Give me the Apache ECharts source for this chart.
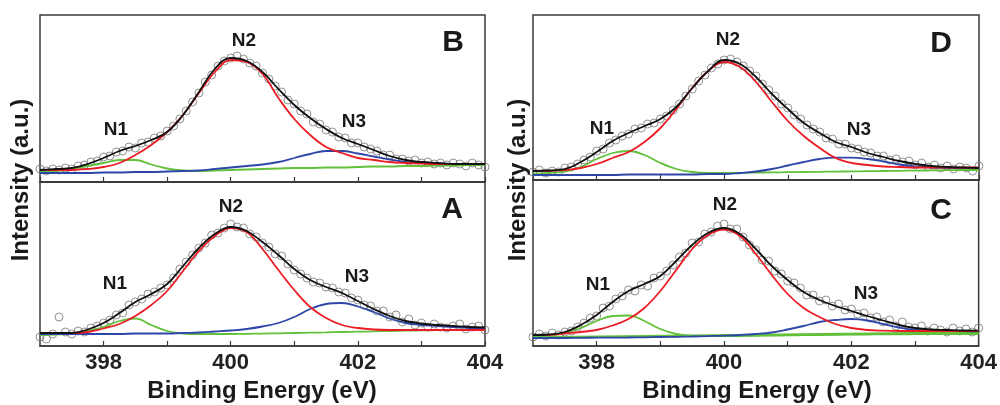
<!DOCTYPE html>
<html>
<head>
<meta charset="utf-8">
<script src="https://cdn.jsdelivr.net/npm/echarts@6/dist/echarts.min.js"></script>
<style>
html,body{margin:0;padding:0;background:#fff}
#main{width:1000px;height:405px}
</style>
</head>
<body>
<div id="main"></div>
<script>
// binding energy (eV) of the fitted curves and of the measured points
var xFit = [397,397.25,397.5,397.75,398,398.25,398.5,398.75,399,399.25,399.5,399.75,400,400.25,400.5,400.75,401,401.25,401.5,401.75,402,402.25,402.5,402.75,403,403.25,403.5,403.75,404];
var xPts = [397,397.1,397.2,397.3,397.4,397.5,397.6,397.7,397.8,397.9,
	398,398.1,398.2,398.3,398.4,398.5,398.6,398.7,398.8,398.9,
	399,399.1,399.2,399.3,399.4,399.5,399.6,399.7,399.8,399.9,
	400,400.1,400.2,400.3,400.4,400.5,400.6,400.7,400.8,400.9,
	401,401.1,401.2,401.3,401.4,401.5,401.6,401.7,401.8,401.9,
	402,402.1,402.2,402.3,402.4,402.5,402.6,402.7,402.8,402.9,
	403,403.1,403.2,403.3,403.4,403.5,403.6,403.7,403.8,403.9,404];
var xTicks = [398, 400, 402, 404];

// panel B (intensity, a.u.)
var bPts = [13,11,13,12,14,13,16,17,20,21,25,26,30,31,35,34,39,40,44,46,51,56,63,71,80,89,100,107,116,121,124,126,123,119,116,109,103,96,90,82,78,71,68,60,58,52,50,45,44,39,39,35,33,31,27,27,23,23,21,22,19,20,18,19,17,19,18,16,19,17,15];
var bFit = [12,13,14,18,24,31,36,42,50,67,90,113,124,121,110,93,77,64,53,44,38,32,26,22,20,19,18,18,18];
var bN1 = [10,11,13,16,19,22,22,17.5,13.5,11.5,11,11.5,12,12.5,13,13.5,14,14,14.5,14.5,15,15.5,15.5,16,16,16.5,16.5,17,17];
var bN2 = [12,12,12,13,15,19,27,37,50,67,89,110,122,120,108,84,63,47,35,29,24,22,20,19,18.5,18,18,18,18];
var bN3 = [9,9,9,9,9.5,9.5,10,10,10.5,11,11.5,13,14.5,16,17.5,20,24,28,31,31,28.5,25.5,22.5,20,19,18.5,18,18,18];

// panel A
var aPts = [9,7,12,29,14,12,15,14,18,20,23,26,31,33,41,44,47,52,54,58,61,68,77,84,91,98,103,111,113,118,122,119,118,112,109,103,99,92,90,82,76,72,68,64,63,59,58,54,53,48,46,41,40,35,35,29,31,24,27,21,23,19,22,19,18,20,22,17,19,20,16];
var aFit = [13,13,13,16.5,23,33,44,52,62,80,98,112,119,115,104,91,77,66,59,53,45,37,30,25,22.5,21,20,19,18.5];
var aN1 = [11,11.5,12.5,15,19,25,27.5,21,15,12.5,12,12,12,12.2,12.4,12.7,13,13.3,13.6,14,14.3,14.6,15,15.3,15.6,15.9,16.1,16.4,16.7];
var aN2 = [13,13,13,14,17.5,22,30,41,55,75,95,110,118,114,97,76,56,39,28,21,18,16.5,16,16,16,16,16,16,16];
var aN3 = [12,12,12,12,12,12,12.5,12.5,12.5,13,13.5,14.5,15.5,17,19.5,23,29,37,42,43,39.5,34,27.5,23,21,20,19,18,17.5];

// panel D
var dPts = [8,10,7,9,8,12,13,16,20,23,29,31,37,40,44,46,51,52,56,57,61,64,70,76,84,91,99,105,112,116,120,121,118,114,109,104,96,90,84,76,72,65,61,55,51,48,42,41,36,36,32,31,28,27,24,24,20,21,18,19,15,17,13,15,12,14,11,13,12,9,14];
var dFit = [9,9.5,11,18,28,39,47,54,61,73,92,109,120,116,103,86,71,57,47,38,33,27,23,19,16,14,13,12.5,12];
var dN1 = [6,7,8.5,13,21,27,29,25,17,11,8,7,7,7.2,7.4,7.6,7.8,8,8.2,8.4,8.6,8.8,9,9.2,9.4,9.6,9.8,10,10];
var dN2 = [9,9,10,12,16,22,28,38,52,71,92,109,118,113,98,78,59,44,32,22,17,15,13.5,13,12.5,12.5,12.5,12.5,12.5];
var dN3 = [5,5,5,5,5,5,5.5,5.5,5.5,5.5,5.5,6,6,7,8.5,11,14.5,18,21,22.3,22.3,21,18.5,15.5,13.5,12.5,12,12,12];

// panel C
var cPts = [9,12,10,13,11,14,15,19,23,28,30,38,40,47,50,56,55,61,60,68,70,75,81,89,93,103,104,112,114,120,122,117,117,109,101,96,86,85,75,72,65,63,58,51,51,45,46,40,42,36,37,32,33,28,29,24,26,20,24,19,18,20,15,18,16,14,18,15,17,14,18];
var cFit = [11,11.5,14,21,31,44,55,62,70,85,101,113,118,112,97,80,66,54,46,40,35,30,25.5,21,18,16.5,16,15.5,15.3];
var cN1 = [9.7,10.5,13,18,25,30,30.5,25,17,12,10,9.8,9.8,10,10.2,10.4,10.6,10.8,11,11.2,11.4,11.5,11.6,11.7,11.8,11.9,12,12,12];
var cN2 = [11,11,12.5,14,16,20.5,27,38,55,76,97,111,116.5,110,92,71,52,38,29,22,18,16,15.3,15,15,15,15,15,15];
var cN3 = [8,8,8,8.2,8.3,8.4,8.5,8.7,9,9.2,9.5,9.9,10.3,11,12,13.5,16.5,20,24,26,27,25.5,22,18.5,16,15.3,15,14.8,14.7];
var xBg = [397, 404];
var cBg = [8.5, 13.5];

function pairs(xs, ys){
	return xs.map(function(x, i){ return [x, ys[i]]; });
}

var panels = [
	{pts: bPts, fit: bFit, n1: bN1, n2: bN2, n3: bN3, bottom: false},
	{pts: aPts, fit: aFit, n1: aN1, n2: aN2, n3: aN3, bottom: true},
	{pts: dPts, fit: dFit, n1: dN1, n2: dN2, n3: dN3, bottom: false},
	{pts: cPts, fit: cFit, n1: cN1, n2: cN2, n3: cN3, bottom: true}
];
var grids = [
	{left: 40, top: 15, width: 445, height: 167},
	{left: 40, top: 182, width: 445, height: 164},
	{left: 533, top: 15, width: 446, height: 165},
	{left: 533, top: 180, width: 446, height: 166}
];

var FONT = 'Arial, "Liberation Sans", sans-serif';
var xAxes = [], yAxes = [], series = [];
panels.forEach(function(p, i){
	grids[i].show = true;
	grids[i].borderColor = '#3a3a3a';
	grids[i].borderWidth = 1.5;
	xAxes.push({
		type: 'value', gridIndex: i, min: 397, max: 404, interval: 1,
		axisLine: {show: true, lineStyle: {color: '#3a3a3a', width: 1.5}},
		axisTick: {show: true, inside: true, length: 5, lineStyle: {color: '#3a3a3a', width: 1.2}},
		splitLine: {show: false},
		axisLabel: {
			show: p.bottom, margin: 6, color: '#222', fontSize: 22, fontWeight: 'bold', fontFamily: FONT,
			showMinLabel: false,
			formatter: function(v){ return xTicks.indexOf(v) >= 0 ? String(v) : ''; }
		}
	});
	yAxes.push({type: 'value', gridIndex: i, min: 0, max: grids[i].height, show: false});
	var line = function(data, color, w, z){
		return {type: 'line', xAxisIndex: i, yAxisIndex: i, data: data, showSymbol: false, smooth: 0.4,
			lineStyle: {color: color, width: w}, z: z, silent: true};
	};
	series.push({type: 'scatter', xAxisIndex: i, yAxisIndex: i, data: pairs(xPts, p.pts),
		symbol: 'circle', symbolSize: 8, z: 1,
		itemStyle: {color: 'rgba(255,255,255,0)', borderColor: '#767676', borderWidth: 1}});
	series.push(line(pairs(xFit, p.n1), '#62c03a', 1.8, 2));
	series.push(line(pairs(xFit, p.n3), '#2e46a8', 1.8, 3));
	series.push(line(pairs(xFit, p.n2), '#ec1c24', 1.8, 4));
	series.push(line(pairs(xFit, p.fit), '#111111', 1.8, 5));
	if (i === 3) series.push(line(pairs(xBg, cBg), '#62c03a', 2.5, 2));
});

function txt(s, x, y, size, rot){
	return {type: 'text', x: x, y: y, rotation: rot || 0, z: 10,
		style: {text: s, fill: '#1a1a1a', font: 'bold ' + size + 'px ' + FONT, textAlign: 'center', textVerticalAlign: 'middle'}};
}
var graphics = [
	txt('B', 453, 43, 30), txt('A', 452, 210, 30), txt('D', 941, 44, 30), txt('C', 941, 211, 30),
	txt('N2', 244, 41, 19), txt('N1', 116, 130, 19), txt('N3', 354, 122, 19),
	txt('N2', 231, 207, 19), txt('N1', 115, 284, 19), txt('N3', 357, 277, 19),
	txt('N2', 728, 40, 19), txt('N1', 602, 129, 19), txt('N3', 859, 130, 19),
	txt('N2', 725, 205, 19), txt('N1', 598, 285, 19), txt('N3', 866, 294, 19),
	txt('Binding Energy (eV)', 262, 391, 24), txt('Binding Energy (eV)', 757, 391, 24),
	txt('Intensity (a.u.)', 21, 180, 24, Math.PI / 2), txt('Intensity (a.u.)', 518, 180, 24, Math.PI / 2)
];

var myChart = echarts.init(document.getElementById('main'));
myChart.setOption({
	animation: false,
	backgroundColor: '#fff',
	grid: grids,
	xAxis: xAxes,
	yAxis: yAxes,
	series: series,
	graphic: graphics
});
</script>
</body>
</html>
